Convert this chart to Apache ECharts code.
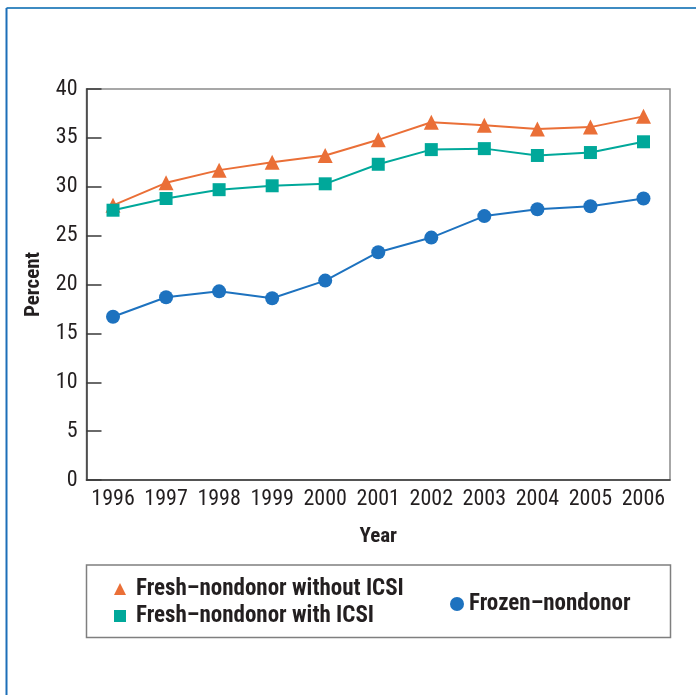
<!DOCTYPE html>
<html>
<head>
<meta charset="utf-8">
<style>
  html, body { margin: 0; padding: 0; background: #fff; }
  #chart { width: 696px; height: 695px; }
</style>
<script src="https://cdn.jsdelivr.net/npm/echarts@6/dist/echarts.min.js"></script>
</head>
<body>
<div id="chart"></div>
<script>
// Years on the x axis
var years = ['1996', '1997', '1998', '1999', '2000', '2001', '2002', '2003', '2004', '2005', '2006'];

// Percent of transfers resulting in live births, by cycle type
var freshWithoutICSI = [28.1, 30.4, 31.7, 32.5, 33.2, 34.8, 36.6, 36.3, 35.9, 36.1, 37.2];
var freshWithICSI    = [27.6, 28.8, 29.7, 30.1, 30.3, 32.3, 33.8, 33.9, 33.2, 33.5, 34.6];
var frozenNondonor   = [16.7, 18.7, 19.3, 18.6, 20.4, 23.3, 24.8, 27.0, 27.7, 28.0, 28.8];

var seriesNames = ['Fresh\u2013nondonor without ICSI', 'Fresh\u2013nondonor with ICSI', 'Frozen\u2013nondonor'];
var yTicks = [0, 5, 10, 15, 20, 25, 30, 35, 40];

var FONT = '"Roboto Condensed", "DejaVu Sans Condensed", sans-serif';
var ORANGE = '#ea6f37';
var TEAL = '#00a89a';
var BLUE = '#1d72bf';

var chart = echarts.init(document.getElementById('chart'), null, { renderer: 'canvas' });

var legendTextLeft = { fontFamily: FONT, fontWeight: 'bold', fontSize: 23, lineHeight: 24, color: '#231f20', padding: [0, 0, 0, 5] };
var legendTextRight = { fontFamily: FONT, fontWeight: 'bold', fontSize: 23, lineHeight: 24, color: '#231f20' };

chart.setOption({
  animation: false,
  backgroundColor: '#fff',
  graphic: [
    // outer blue frame (top and left edges)
    { type: 'line', shape: { x1: 6.5, y1: 8, x2: 696, y2: 8 }, style: { stroke: '#3e8bc2', lineWidth: 2 } },
    { type: 'line', shape: { x1: 6.5, y1: 8, x2: 6.5, y2: 695 }, style: { stroke: '#1c6fb8', lineWidth: 2 } },
    // legend box
    { type: 'rect', shape: { x: 86.5, y: 565, width: 584, height: 72.5 }, style: { fill: 'none', stroke: '#7f7f7f', lineWidth: 1.5 } }
  ],
  grid: {
    left: 86.5, right: 26, top: 89, bottom: 215,
    show: true, borderColor: '#8a8a8a', borderWidth: 1.5, backgroundColor: 'transparent'
  },
  legend: [
    {
      data: [
        { name: seriesNames[0], icon: 'triangle' },
        { name: seriesNames[1], icon: 'rect' }
      ],
      orient: 'vertical',
      left: 109, top: 572,
      itemGap: 3, itemWidth: 12, itemHeight: 12,
      textStyle: legendTextLeft
    },
    {
      data: [{ name: seriesNames[2], icon: 'circle' }],
      orient: 'vertical',
      left: 445, top: 587,
      itemWidth: 14, itemHeight: 14,
      textStyle: legendTextRight
    }
  ],
  xAxis: {
    type: 'category',
    data: years,
    boundaryGap: true,
    name: 'Year',
    nameLocation: 'middle',
    nameGap: 46,
    nameTextStyle: { fontFamily: FONT, fontWeight: 'bold', fontSize: 21, color: '#231f20' },
    axisLine: { lineStyle: { color: '#3a3a3a', width: 1.5 } },
    axisTick: { inside: true, length: 7, alignWithLabel: true, lineStyle: { color: '#3a3a3a', width: 1.5 } },
    axisLabel: { fontFamily: FONT, fontSize: 22, color: '#231f20', margin: 8, interval: 0 },
    splitLine: { show: false }
  },
  yAxis: {
    type: 'value',
    min: yTicks[0], max: yTicks[yTicks.length - 1], interval: 5,
    name: 'Percent',
    nameLocation: 'middle',
    nameGap: 42,
    nameRotate: 90,
    nameTextStyle: { fontFamily: FONT, fontWeight: 'bold', fontSize: 21, color: '#231f20' },
    axisLine: { show: true, lineStyle: { color: '#3a3a3a', width: 1.5 } },
    axisTick: { show: true, inside: true, length: 15, lineStyle: { color: '#3a3a3a', width: 1.5 } },
    axisLabel: { fontFamily: FONT, fontSize: 22, color: '#231f20', margin: 9 },
    splitLine: { show: false }
  },
  series: [
    {
      name: seriesNames[0], type: 'line', data: freshWithoutICSI,
      symbol: 'triangle', symbolSize: 15,
      lineStyle: { color: ORANGE, width: 2 }, itemStyle: { color: ORANGE }
    },
    {
      name: seriesNames[1], type: 'line', data: freshWithICSI,
      symbol: 'rect', symbolSize: 13,
      lineStyle: { color: TEAL, width: 2 }, itemStyle: { color: TEAL }
    },
    {
      name: seriesNames[2], type: 'line', data: frozenNondonor,
      symbol: 'circle', symbolSize: 14,
      lineStyle: { color: BLUE, width: 2 }, itemStyle: { color: BLUE }
    }
  ]
});
</script>
</body>
</html>
